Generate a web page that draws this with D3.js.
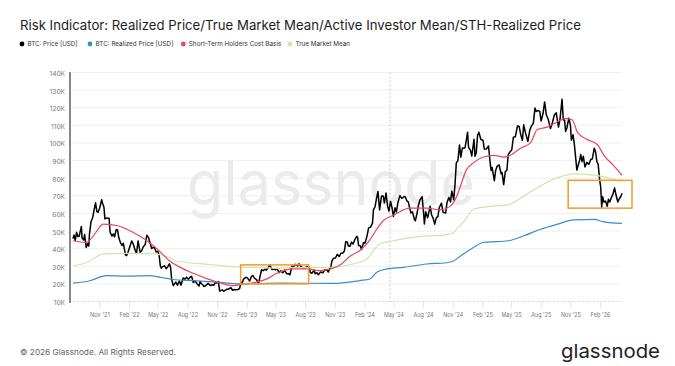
<!DOCTYPE html>
<html><head><meta charset="utf-8">
<script src="https://cdn.jsdelivr.net/npm/d3@7"></script>
<style>
html,body{margin:0;padding:0;background:#fff;}
svg{display:block;font-family:Inter,"Noto Sans",sans-serif;}
</style></head><body>
<svg id="chart" width="675" height="366"></svg>
<script>
const titleText = "Risk Indicator: Realized Price/True Market Mean/Active Investor Mean/STH-Realized Price";
const seriesNames = ["BTC: Price [USD]", "BTC: Realized Price [USD]", "Short-Term Holders Cost Basis", "True Market Mean"];
const seriesColors = ["#000000", "#3a8bd0", "#e5485c", "#cde8a4"];
const yTickValues = [10,20,30,40,50,60,70,80,90,100,110,120,130,140];
const xTickDates = ["2021-11-01","2022-02-01","2022-05-01","2022-08-01","2022-11-01","2023-02-01","2023-05-01","2023-08-01","2023-11-01","2024-02-01","2024-05-01","2024-08-01","2024-11-01","2025-02-01","2025-05-01","2025-08-01","2025-11-01","2026-02-01"];
const halvingDate = "2024-04-20";
const footerText = "© 2026 Glassnode. All Rights Reserved.";
const brandText = "glassnode";

// BTC price, thousands USD
const btcPrice = [
["2021-08-11",45.6],["2021-08-14",47.8],["2021-08-18",44.7],["2021-08-22",49.3],["2021-08-26",46.9],["2021-08-30",47.0],
["2021-09-06",52.6],["2021-09-08",46.1],["2021-09-13",44.9],["2021-09-16",48.0],["2021-09-21",40.7],["2021-09-25",42.8],["2021-09-29",41.5],
["2021-10-01",48.1],["2021-10-06",55.3],["2021-10-11",57.5],["2021-10-15",61.6],["2021-10-20",66.0],["2021-10-24",61.0],["2021-10-28",60.6],
["2021-11-02",63.2],["2021-11-08",67.8],["2021-11-10",66.0],["2021-11-15",63.5],["2021-11-18",56.9],["2021-11-24",57.5],["2021-11-28",57.2],
["2021-12-01",57.2],["2021-12-04",49.4],["2021-12-10",47.1],["2021-12-14",48.4],["2021-12-18",46.7],["2021-12-23",50.8],["2021-12-27",50.7],["2021-12-31",46.3],
["2022-01-05",43.5],["2022-01-10",41.8],["2022-01-14",43.1],["2022-01-21",36.3],["2022-01-24",36.0],["2022-01-28",37.7],
["2022-02-04",41.5],["2022-02-09",44.4],["2022-02-14",42.6],["2022-02-18",40.0],["2022-02-24",37.3],
["2022-03-01",44.4],["2022-03-07",38.0],["2022-03-12",38.8],["2022-03-17",41.1],["2022-03-23",42.4],["2022-03-28",47.6],
["2022-04-02",46.4],["2022-04-07",43.4],["2022-04-12",40.1],["2022-04-18",40.8],["2022-04-21",40.5],["2022-04-26",38.1],
["2022-05-01",38.5],["2022-05-05",36.5],["2022-05-09",30.1],["2022-05-12",28.9],["2022-05-16",29.8],["2022-05-22",30.3],["2022-05-27",28.6],
["2022-06-01",29.8],["2022-06-06",31.4],["2022-06-10",29.0],["2022-06-13",22.5],["2022-06-18",19.0],["2022-06-22",20.0],["2022-06-26",21.0],
["2022-07-01",19.3],["2022-07-07",21.6],["2022-07-12",19.3],["2022-07-19",23.4],["2022-07-24",22.6],["2022-07-29",23.8],
["2022-08-04",22.6],["2022-08-10",23.9],["2022-08-14",24.3],["2022-08-19",20.8],["2022-08-25",21.6],["2022-08-31",20.0],
["2022-09-06",18.8],["2022-09-09",21.4],["2022-09-13",20.2],["2022-09-18",19.4],["2022-09-21",18.5],["2022-09-27",19.1],
["2022-10-04",20.3],["2022-10-11",19.1],["2022-10-17",19.5],["2022-10-22",19.2],["2022-10-26",20.7],["2022-10-31",20.5],
["2022-11-05",21.3],["2022-11-09",15.9],["2022-11-13",16.3],["2022-11-17",16.6],["2022-11-21",15.8],["2022-11-27",16.5],
["2022-12-01",17.0],["2022-12-06",17.1],["2022-12-14",17.8],["2022-12-19",16.4],["2022-12-25",16.8],["2022-12-30",16.6],
["2023-01-05",16.8],["2023-01-10",17.4],["2023-01-14",20.9],["2023-01-18",20.7],["2023-01-22",22.7],["2023-01-29",23.7],
["2023-02-03",23.4],["2023-02-10",21.6],["2023-02-16",24.3],["2023-02-20",24.8],["2023-02-25",23.2],
["2023-03-03",22.4],["2023-03-10",20.2],["2023-03-14",24.2],["2023-03-19",28.0],["2023-03-24",27.5],["2023-03-29",28.3],
["2023-04-03",27.8],["2023-04-10",29.7],["2023-04-14",30.5],["2023-04-20",28.2],["2023-04-26",28.4],
["2023-05-01",28.0],["2023-05-06",28.9],["2023-05-12",26.3],["2023-05-17",27.4],["2023-05-24",26.3],["2023-05-29",27.8],
["2023-06-05",25.7],["2023-06-10",25.8],["2023-06-15",25.1],["2023-06-21",30.0],["2023-06-28",30.1],
["2023-07-03",31.1],["2023-07-09",30.2],["2023-07-13",31.4],["2023-07-19",29.9],["2023-07-24",29.2],["2023-07-31",29.2],
["2023-08-08",29.8],["2023-08-14",29.4],["2023-08-17",26.6],["2023-08-22",26.0],["2023-08-29",27.7],
["2023-09-01",25.8],["2023-09-07",26.3],["2023-09-11",25.1],["2023-09-18",26.8],["2023-09-25",26.3],
["2023-10-01",28.0],["2023-10-09",27.6],["2023-10-12",26.7],["2023-10-16",28.5],["2023-10-20",29.7],["2023-10-23",33.0],["2023-10-28",34.5],
["2023-11-03",34.7],["2023-11-09",36.7],["2023-11-15",35.6],["2023-11-20",37.4],["2023-11-26",37.5],
["2023-12-01",38.7],["2023-12-05",44.0],["2023-12-10",43.8],["2023-12-13",41.5],["2023-12-18",41.3],["2023-12-23",43.7],["2023-12-28",42.6],
["2024-01-02",45.0],["2024-01-08",47.0],["2024-01-11",46.3],["2024-01-14",41.8],["2024-01-19",41.6],["2024-01-23",39.5],["2024-01-29",43.3],
["2024-02-03",43.2],["2024-02-09",47.1],["2024-02-14",51.8],["2024-02-20",52.2],["2024-02-26",54.5],["2024-02-29",62.0],
["2024-03-05",63.8],["2024-03-10",69.0],["2024-03-14",72.5],["2024-03-19",62.0],["2024-03-25",69.9],["2024-03-30",69.9],
["2024-04-03",66.0],["2024-04-08",71.6],["2024-04-13",64.0],["2024-04-17",61.3],["2024-04-22",66.8],["2024-04-26",63.8],
["2024-05-01",58.3],["2024-05-06",63.2],["2024-05-10",60.8],["2024-05-15",66.2],["2024-05-21",70.1],["2024-05-27",68.5],
["2024-06-03",69.6],["2024-06-07",69.3],["2024-06-11",67.3],["2024-06-16",66.6],["2024-06-24",60.3],["2024-06-29",60.9],
["2024-07-05",56.7],["2024-07-08",55.8],["2024-07-14",60.8],["2024-07-17",64.1],["2024-07-22",67.6],["2024-07-29",69.5],
["2024-08-02",61.4],["2024-08-05",54.0],["2024-08-09",60.9],["2024-08-15",57.5],["2024-08-23",64.1],["2024-08-27",59.4],
["2024-09-01",57.3],["2024-09-06",53.9],["2024-09-11",57.6],["2024-09-16",58.2],["2024-09-20",63.2],["2024-09-27",65.8],
["2024-10-02",60.6],["2024-10-10",60.3],["2024-10-14",66.0],["2024-10-20",69.0],["2024-10-25",66.6],["2024-10-29",72.7],
["2024-11-04",67.8],["2024-11-08",76.5],["2024-11-12",88.7],["2024-11-17",90.0],["2024-11-22",98.9],["2024-11-26",91.9],
["2024-12-01",97.2],["2024-12-05",96.9],["2024-12-09",97.4],["2024-12-13",101.4],["2024-12-17",106.1],["2024-12-20",97.5],["2024-12-26",95.8],["2024-12-30",92.6],
["2025-01-06",102.1],["2025-01-09",92.5],["2025-01-13",94.5],["2025-01-17",104.4],["2025-01-21",106.1],["2025-01-27",102.1],
["2025-02-03",101.4],["2025-02-07",96.5],["2025-02-13",96.6],["2025-02-20",98.3],["2025-02-25",88.7],["2025-02-28",84.4],
["2025-03-03",86.1],["2025-03-10",78.6],["2025-03-14",84.3],["2025-03-19",86.9],["2025-03-25",87.5],["2025-03-31",82.5],
["2025-04-03",83.2],["2025-04-08",76.3],["2025-04-13",83.7],["2025-04-18",84.5],["2025-04-22",93.4],["2025-04-28",95.0],
["2025-05-03",96.0],["2025-05-08",103.2],["2025-05-14",103.5],["2025-05-21",109.7],["2025-05-26",109.4],["2025-05-31",104.6],
["2025-06-05",101.5],["2025-06-09",110.3],["2025-06-15",105.5],["2025-06-22",100.9],["2025-06-28",107.3],
["2025-07-03",109.6],["2025-07-09",111.2],["2025-07-14",119.8],["2025-07-18",117.9],["2025-07-24",118.4],["2025-07-29",117.9],
["2025-08-02",112.5],["2025-08-08",116.7],["2025-08-13",123.3],["2025-08-18",116.2],["2025-08-24",113.5],["2025-08-31",108.2],
["2025-09-05",110.7],["2025-09-12",115.9],["2025-09-18",117.1],["2025-09-25",109.0],["2025-09-30",114.0],
["2025-10-06",124.8],["2025-10-10",113.0],["2025-10-14",113.0],["2025-10-17",106.5],["2025-10-21",108.5],["2025-10-27",114.1],
["2025-11-01",110.0],["2025-11-04",101.6],["2025-11-09",104.7],["2025-11-13",99.6],["2025-11-17",92.2],["2025-11-21",84.6],["2025-11-25",87.3],["2025-11-30",90.4],
["2025-12-03",93.4],["2025-12-07",89.4],["2025-12-11",92.5],["2025-12-16",86.4],["2025-12-22",89.0],["2025-12-28",87.8],
["2026-01-03",90.6],["2026-01-08",91.0],["2026-01-14",97.0],["2026-01-18",95.0],["2026-01-22",89.5],["2026-01-26",88.0],["2026-01-31",78.5],
["2026-02-03",75.0],["2026-02-06",63.5],["2026-02-09",69.5],["2026-02-13",66.5],["2026-02-18",67.0],["2026-02-23",64.0],["2026-02-27",68.0],
["2026-03-03",66.5],["2026-03-08",69.0],["2026-03-13",71.0],["2026-03-18",74.5],["2026-03-23",70.0],["2026-03-28",66.5],
["2026-04-02",68.5],["2026-04-06",69.5],["2026-04-10",71.5]
];

const sthCostBasis = [
["2021-08-11",44.5],["2021-09-22",43.6],["2021-10-12",47.0],["2021-11-13",53.9],["2021-12-29",53.0],
["2022-01-25",51.0],["2022-03-07",47.0],["2022-03-28",44.5],["2022-04-28",40.0],["2022-06-07",33.0],
["2022-07-08",29.5],["2022-08-19",26.0],["2022-09-30",23.0],["2022-11-11",20.5],["2022-12-16",19.0],
["2023-01-11",19.5],["2023-02-23",20.7],["2023-04-06",23.0],["2023-05-05",26.0],["2023-06-25",28.5],
["2023-08-07",28.5],["2023-09-18",27.5],["2023-10-20",28.5],["2023-11-20",31.0],["2023-12-18",35.7],
["2024-01-18",39.0],["2024-02-18",45.0],["2024-03-10",51.0],["2024-03-31",56.0],["2024-05-01",59.0],
["2024-06-21",63.0],["2024-08-12",63.0],["2024-09-23",62.0],["2024-10-24",64.0],["2024-11-14",70.0],
["2024-11-24",75.0],["2024-12-14",85.0],["2025-01-04",88.7],["2025-02-04",92.0],["2025-03-08",93.0],
["2025-04-08",92.0],["2025-04-29",93.0],["2025-05-30",97.0],["2025-06-30",100.0],["2025-07-21",107.6],
["2025-08-21",109.0],["2025-09-22",112.0],["2025-10-17",114.0],["2025-11-07",113.0],["2025-11-23",106.0],
["2025-12-24",101.9],["2026-01-24",99.0],["2026-02-13",93.0],["2026-03-16",87.0],["2026-04-10",81.6]
];

const trueMarketMean = [
["2021-08-11",30.3],["2021-09-22",32.0],["2021-11-13",37.0],["2022-01-25",37.3],["2022-04-17",37.0],
["2022-06-07",35.0],["2022-06-27",33.0],["2022-10-10",31.0],["2023-01-11",29.5],["2023-03-14",29.3],
["2023-05-15",28.8],["2023-06-25",29.3],["2023-10-07",29.3],["2023-12-28",31.3],["2024-02-07",34.0],
["2024-03-20",42.6],["2024-05-01",44.5],["2024-06-21",46.3],["2024-08-12",47.3],["2024-09-23",47.5],
["2024-10-13",48.0],["2024-11-03",49.0],["2024-11-14",51.5],["2024-12-04",55.0],["2025-01-04",62.4],
["2025-02-26",64.0],["2025-04-24",65.0],["2025-06-10",69.9],["2025-07-21",74.6],["2025-09-22",80.3],
["2025-11-12",82.5],["2026-01-24",81.5],["2026-04-10",78.0]
];

const realizedPrice = [
["2021-08-11",20.4],["2021-10-02",21.8],["2021-11-23",24.7],["2022-01-25",24.4],["2022-04-05",24.7],
["2022-05-07",23.8],["2022-06-17",22.5],["2022-08-19",21.8],["2022-10-31",21.0],["2023-01-11",20.0],
["2023-03-14",20.2],["2023-05-15",20.4],["2023-10-26",20.3],["2024-01-18",21.9],["2024-02-18",22.8],
["2024-03-10",26.6],["2024-04-10",28.5],["2024-06-01",29.4],["2024-08-12",31.3],["2024-10-13",32.0],
["2024-11-03",33.0],["2024-11-24",35.7],["2024-12-04",37.0],["2025-01-04",40.7],["2025-02-04",43.5],
["2025-04-24",44.5],["2025-06-10",47.3],["2025-07-31",51.0],["2025-09-22",53.9],["2025-11-12",56.3],
["2026-01-13",56.6],["2026-02-13",55.2],["2026-04-10",54.3]
];

// highlighted regions (date span, value span in K USD)
const highlightStarts = ["2023-01-13","2025-10-25"];
const highlightEnds = ["2023-08-12","2026-05-11"];
const highlightLows = [20.0, 63.0];
const highlightHighs = [30.8, 78.8];

const parse = d3.timeParse("%Y-%m-%d");
const svg = d3.select("#chart");

const x = d3.scaleTime()
  .domain(d3.extent(btcPrice, d => parse(d[0])))
  .range([73, 622]);
const y = d3.scaleLinear().domain([10, 140]).range([301.5, 72.5]);

// title
svg.append("text").attr("x", 20).attr("y", 30).attr("font-size", 13.2).attr("fill", "#1c1c1c").text(titleText);

// legend
const legendX = [22, 90, 183.3, 290];
const legendW = [50, 78, 92.5, 54.5];
seriesNames.forEach((n, i) => {
  const g = svg.append("g").attr("transform", `translate(${legendX[i]},44)`);
  g.append("circle").attr("r", 2.4).attr("fill", seriesColors[i]);
  g.append("text").attr("x", 5.5).attr("dy", "0.35em").attr("font-size", 6.8).attr("fill", "#333")
    .attr("textLength", legendW[i]).attr("lengthAdjust", "spacingAndGlyphs").text(n);
});

// gridlines
svg.append("g").selectAll("line").data(yTickValues.filter(v => v > 10)).join("line")
  .attr("x1", 73).attr("x2", 622).attr("y1", d => y(d)).attr("y2", d => y(d))
  .attr("stroke", "#efefef").attr("stroke-width", 1);
svg.append("line").attr("x1", 73).attr("x2", 622).attr("y1", y(10)).attr("y2", y(10))
  .attr("stroke", "#c8c8c8").attr("stroke-dasharray", "1,1.5");

// watermark
svg.append("text").attr("x", 187).attr("y", 205).attr("font-size", 62).attr("fill", "#ebebeb")
  .attr("textLength", 288).attr("lengthAdjust", "spacingAndGlyphs").text(brandText);

// y axis
const yAxis = d3.axisLeft(y).tickValues(yTickValues).tickFormat(d => d + "K").tickSize(0).tickPadding(5);
const ya = svg.append("g").attr("transform", "translate(70,0)").call(yAxis);
ya.select(".domain").attr("stroke", "#888").attr("stroke-width", 2).attr("d", `M0,${y(140)-0.5}V${y(10)+1.5}`);
ya.selectAll("text").attr("font-size", 6.6).attr("fill", "#777").attr("font-family", "Inter,sans-serif").attr("dy", "0.45em");

// x axis
const xAxis = d3.axisBottom(x).tickValues(xTickDates.map(parse)).tickFormat(d3.timeFormat("%b '%y")).tickSize(6).tickPadding(5);
const xa = svg.append("g").attr("transform", `translate(0,${y(10)})`).call(xAxis);
xa.select(".domain").remove();
xa.selectAll("line").attr("stroke", "#e0e0e0");
xa.selectAll("text").attr("font-size", 6.8).attr("fill", "#777").attr("font-family", "Inter,sans-serif")
  .attr("textLength", 20).attr("lengthAdjust", "spacingAndGlyphs");

// halving line
svg.append("line").attr("x1", x(parse(halvingDate))).attr("x2", x(parse(halvingDate)))
  .attr("y1", y(140)).attr("y2", y(10)).attr("stroke", "#c8c8c8").attr("stroke-dasharray", "2,2");

const lineGen = curve => d3.line().x(d => x(parse(d[0]))).y(d => y(d[1])).curve(curve);

svg.append("path").datum(btcPrice).attr("d", lineGen(d3.curveLinear)).attr("fill", "none")
  .attr("stroke", seriesColors[0]).attr("stroke-width", 1.5).attr("stroke-linejoin", "round");
svg.append("path").datum(realizedPrice).attr("d", lineGen(d3.curveMonotoneX)).attr("fill", "none")
  .attr("stroke", seriesColors[1]).attr("stroke-width", 1.2);
svg.append("path").datum(trueMarketMean).attr("d", lineGen(d3.curveMonotoneX)).attr("fill", "none")
  .attr("stroke", seriesColors[3]).attr("stroke-width", 1.2);
svg.append("path").datum(sthCostBasis).attr("d", lineGen(d3.curveMonotoneX)).attr("fill", "none")
  .attr("stroke", seriesColors[2]).attr("stroke-width", 1.2);

// highlight boxes
highlightStarts.forEach((s, i) => {
  const x0 = x(parse(s)), x1 = x(parse(highlightEnds[i]));
  const y0 = y(highlightHighs[i]), y1 = y(highlightLows[i]);
  svg.append("rect").attr("x", x0).attr("y", y0).attr("width", x1 - x0).attr("height", y1 - y0)
    .attr("fill", "none").attr("stroke", "#f59a2b").attr("stroke-width", 1.5);
});

// footer
svg.append("text").attr("x", 20).attr("y", 355).attr("font-size", 8.2).attr("fill", "#666")
  .attr("textLength", 156).attr("lengthAdjust", "spacingAndGlyphs").text(footerText);
svg.append("text").attr("x", 561).attr("y", 358).attr("font-size", 19).attr("fill", "#222")
  .attr("textLength", 99).attr("lengthAdjust", "spacingAndGlyphs").text(brandText);
</script>
</body></html>
